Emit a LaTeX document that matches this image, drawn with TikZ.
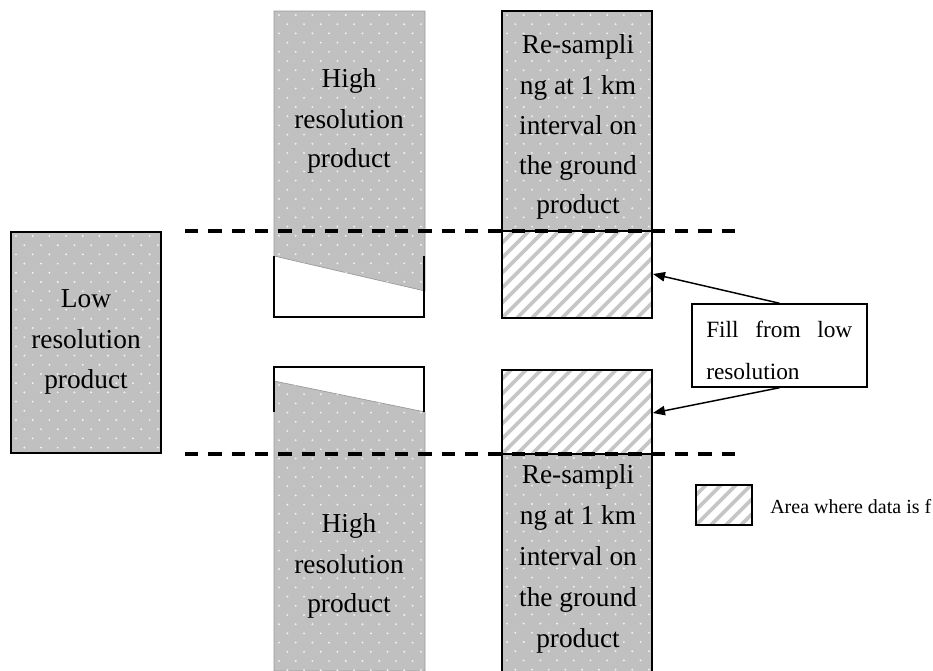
\documentclass[tikz,border=0pt]{standalone}
\usepackage{fontspec}
\setmainfont{Liberation Serif}
\usetikzlibrary{arrows.meta}
\definecolor{greyc}{HTML}{C0C0C0}
\definecolor{hatchc}{HTML}{C6C6C6}
\definecolor{dotc}{HTML}{F2F2F2}
\tikzset{
  boxline/.style={draw=black, line width=1.1pt},
  greyedge/.style={draw=black!40, line width=0.5pt, fill=greyc},
  hatchline/.style={draw=hatchc, line width=2.8pt},
  cutline/.style={draw=black, line width=3pt, dash pattern=on 10pt off 7.5pt},
  callarrow/.style={draw=black, line width=1.1pt, -{Triangle[length=9pt,width=7pt]}},
  boxtxt/.style={font=\fontsize{20.5}{30}\selectfont, anchor=base, inner sep=0pt},
  calltxt/.style={font=\fontsize{17.5}{26}\selectfont, anchor=base west, inner sep=0pt},
  legtxt/.style={font=\fontsize{15}{18}\selectfont, anchor=base west, inner sep=0pt},
}
\newcommand\dotgrid[4]{%
  \pgfmathtruncatemacro\dgrows{(#4-#2)/9.2+1}%
  \pgfmathtruncatemacro\dgcols{(#3-#1)/16.7+1}%
  \foreach \j in {0,...,\dgrows}{%
    \foreach \i in {0,...,\dgcols}{%
      \fill[dotc] ({#1+5+\i*16.7+mod(\j,2)*8.35},{#2+4+\j*9.2}) circle[radius=0.8pt];
    }}}
\newcommand\hatchgrid[4]{%
  \begin{scope}
    \clip (#1,#2) rectangle (#3,#4);
    \fill[white] (#1,#2) rectangle (#3,#4);
    \foreach \k in {-9,...,11}{\draw[hatchline] ({#1+\k*15},#4) -- ++(120,-120);}
  \end{scope}
  \draw[boxline] (#1,#2) rectangle (#3,#4);}
\begin{document}
\begin{tikzpicture}[x=0.75pt,y=-0.75pt]
\useasboundingbox (0,0) rectangle (933,671);
\fill[white] (0,0) rectangle (933,671);

% ---- Low resolution product
\fill[greyc] (11,232) rectangle (161,453);
\begin{scope}\clip (11,232) rectangle (161,453); \dotgrid{11}{232}{161}{453}\end{scope}
\draw[boxline] (11,232) rectangle (161,453);

% ---- High resolution product (top)
\draw[greyedge] (274,11) -- (425,11) -- (425,291) -- (274,256) -- cycle;
\begin{scope}\clip (274,11) -- (425,11) -- (425,291) -- (274,256) -- cycle; \dotgrid{274}{11}{425}{291}\end{scope}
\draw[boxline] (274,256) -- (274,317) -- (424,317) -- (424,256);

% ---- High resolution product (bottom)
\draw[greyedge] (274,381) -- (425,412) -- (425,671) -- (274,671) -- cycle;
\begin{scope}\clip (274,381) -- (425,412) -- (425,671) -- (274,671) -- cycle; \dotgrid{274}{381}{425}{671}\end{scope}
\draw[boxline] (274,412) -- (274,367) -- (424,367) -- (424,412);

% ---- Re-sampling (top)
\fill[greyc] (502,11) rectangle (652,231);
\begin{scope}\clip (502,11) rectangle (652,231); \dotgrid{502}{11}{652}{231}\end{scope}
\draw[boxline] (502,11) rectangle (652,231);
\hatchgrid{502}{231}{652}{318}

% ---- Re-sampling (bottom)
\hatchgrid{502}{370}{652}{454}
\fill[greyc] (502,454) rectangle (652,671);
\begin{scope}\clip (502,454) rectangle (652,671); \dotgrid{502}{454}{652}{671}\end{scope}
\draw[boxline] (502,671) -- (502,454) -- (652,454) -- (652,671);

% ---- dashed cut lines
\coordinate (cutAl) at (185,231); \coordinate (cutAr) at (735,231);
\coordinate (cutBl) at (185,454); \coordinate (cutBr) at (735,454);
\draw[cutline] (cutAl) -- (cutAr);
\draw[cutline] (cutBl) -- (cutBr);

% ---- texts in boxes
\node[boxtxt] (lr1) at (86,307) {Low};
\node[boxtxt] (lr2) at (86,348) {resolution};
\node[boxtxt] (lr3) at (86,388) {product};

\node[boxtxt] (ha1) at (349,87) {High};
\node[boxtxt] (ha2) at (349,128) {resolution};
\node[boxtxt] (ha3) at (349,167) {product};

\node[boxtxt] (hb1) at (349,532) {High};
\node[boxtxt] (hb2) at (349,573) {resolution};
\node[boxtxt] (hb3) at (349,612) {product};

\node[boxtxt] (ra1) at (578,53) {Re-sampli};
\node[boxtxt] (ra2) at (578,94) {ng at 1 km};
\node[boxtxt] (ra3) at (578,134) {interval on};
\node[boxtxt] (ra4) at (578,174) {the ground};
\node[boxtxt] (ra5) at (578,213) {product};

\node[boxtxt] (rb1) at (578,483) {Re-sampli};
\node[boxtxt] (rb2) at (578,524) {ng at 1 km};
\node[boxtxt] (rb3) at (578,565) {interval on};
\node[boxtxt] (rb4) at (578,606) {the ground};
\node[boxtxt] (rb5) at (578,647) {product};

% ---- callout
\node[draw=black, line width=1.1pt, minimum width=131.25pt, minimum height=62.25pt, inner sep=0pt, fill=white] (fillbox) at (779.5,345.5) {};
\node[calltxt] (ft1) at (706,337) {\hbox to 109.5pt{Fill\hfill from\hfill low}};
\node[calltxt] (ft2) at (706,379) {resolution};
\coordinate (tipA) at (653,274);
\coordinate (tipB) at (653,413);
\draw[callarrow] (fillbox.north) -- (tipA);
\draw[callarrow] (fillbox.south) -- (tipB);

% ---- legend
\hatchgrid{696}{485}{752}{525}
\node[legtxt] (leg) at (770,513) {Area where data is f};
\end{tikzpicture}
\end{document}
